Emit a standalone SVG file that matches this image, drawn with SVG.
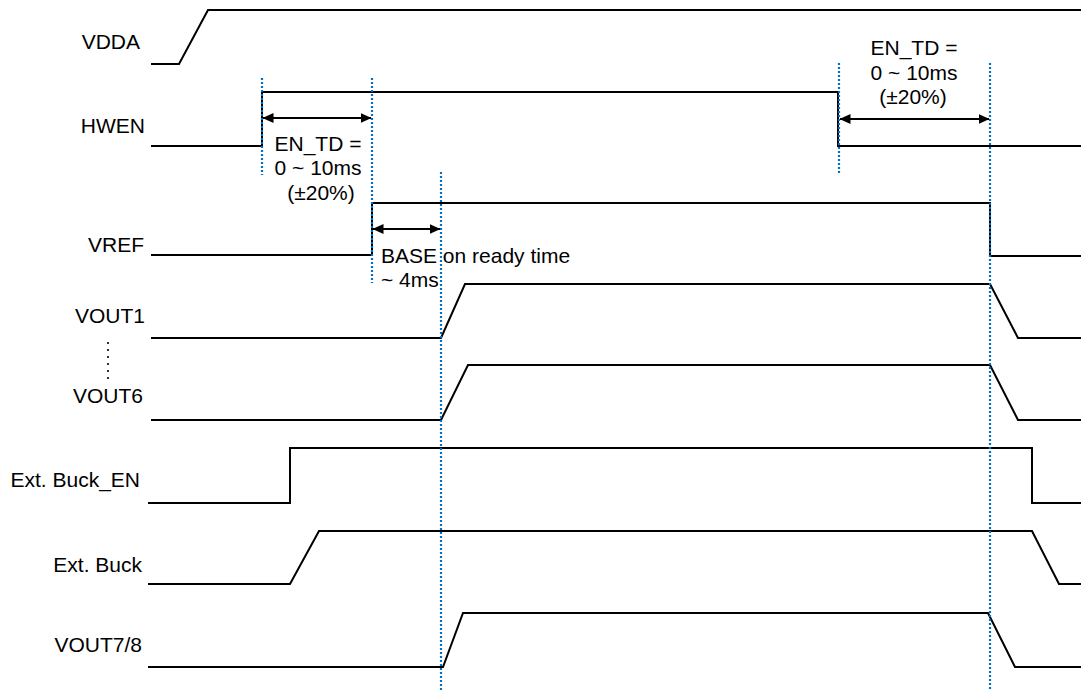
<svg xmlns="http://www.w3.org/2000/svg" width="1081" height="691" viewBox="0 0 1081 691">
<style>
.sig{fill:none;stroke:#000;stroke-width:2;stroke-linejoin:miter}
.lbl{font-family:"Liberation Sans",Arial,sans-serif;font-size:21px;fill:#000;text-anchor:end}
.note{font-family:"Liberation Sans",Arial,sans-serif;font-size:21px;fill:#000}
.guide{fill:none;stroke:#0070C0;stroke-width:2.2;stroke-dasharray:2 2}
.dim{fill:none;stroke:#000;stroke-width:2}
</style>
<defs>
<marker id="ah" viewBox="0 0 11 10" refX="10.5" refY="5" markerWidth="11" markerHeight="10" markerUnits="userSpaceOnUse" orient="auto-start-reverse">
<path d="M0,0 L11,5 L0,10 z" fill="#000"/>
</marker>
</defs>
<rect width="1081" height="691" fill="#fff"/>

<g id="vdda">
<text class="lbl" x="140" y="49">VDDA</text>
<path class="sig" d="M151,64 L179,64 L208,10 L1081,10"/>
</g>
<g id="hwen">
<text class="lbl" x="145" y="133">HWEN</text>
<path class="sig" d="M151,146 L262,146 L262,92 L838,92 L838,146 L1081,146"/>
<path d="M236,146 L247,146 M273,92 L290,92 M611,92 L690,92" stroke="#000" stroke-width="2.2" fill="none"/>
</g>
<g id="vref">
<text class="lbl" x="144" y="252">VREF</text>
<path class="sig" d="M151,255 L372,255 L372,203 L990,203 L990,256 L1081,256"/>
</g>
<g id="vout1">
<text class="lbl" x="145" y="323">VOUT1</text>
<path class="sig" d="M151,338 L441,338 L465,284 L990,284 L1018,338 L1081,338"/>
</g>
<g id="dots">
<line x1="108" y1="343" x2="108" y2="379" stroke="#000" stroke-width="2.2" stroke-linecap="round" stroke-dasharray="0 7"/>
</g>
<g id="vout6">
<text class="lbl" x="143" y="403">VOUT6</text>
<path class="sig" d="M151,420 L441,420 L468,365 L990,365 L1018,420 L1081,420"/>
</g>
<g id="ext-buck-en">
<text class="lbl" x="140" y="487">Ext. Buck_EN</text>
<path class="sig" d="M148,503 L290,503 L290,448 L1032,448 L1032,503 L1081,503"/>
</g>
<g id="ext-buck">
<text class="lbl" x="142" y="572">Ext. Buck</text>
<path class="sig" d="M148,584 L290,584 L319,531 L1032,531 L1059,584 L1081,584"/>
</g>
<g id="vout78">
<text class="lbl" x="142" y="652">VOUT7/8</text>
<path class="sig" d="M148,667 L443,667 L463,613 L988,613 L1015,667 L1081,667"/>
</g>

<g id="connectors">
<line class="guide" x1="262" y1="78" x2="262" y2="175"/>
<line class="guide" x1="372" y1="78" x2="372" y2="283"/>
<line class="guide" x1="441" y1="172" x2="441" y2="691"/>
<line class="guide" x1="839" y1="63" x2="839" y2="175"/>
<line class="guide" x1="990" y1="63" x2="990" y2="691"/>
<line class="dim" x1="263" y1="118" x2="371" y2="118" marker-start="url(#ah)" marker-end="url(#ah)"/>
<line class="dim" x1="373" y1="229" x2="440" y2="229" marker-start="url(#ah)" marker-end="url(#ah)"/>
<line class="dim" x1="840" y1="119" x2="989" y2="119" marker-start="url(#ah)" marker-end="url(#ah)"/>
</g>

<g id="annotations">
<text class="note" x="318" y="151" text-anchor="middle">EN_TD =</text>
<text class="note" x="318" y="175" text-anchor="middle">0 ~ 10ms</text>
<text class="note" x="321" y="200" text-anchor="middle">(±20%)</text>
<text class="note" x="381" y="263">BASE on ready time</text>
<text class="note" x="381" y="287">~ 4ms</text>
<text class="note" x="914" y="55" text-anchor="middle">EN_TD =</text>
<text class="note" x="914" y="80" text-anchor="middle">0 ~ 10ms</text>
<text class="note" x="913" y="104" text-anchor="middle">(±20%)</text>
</g>
</svg>
